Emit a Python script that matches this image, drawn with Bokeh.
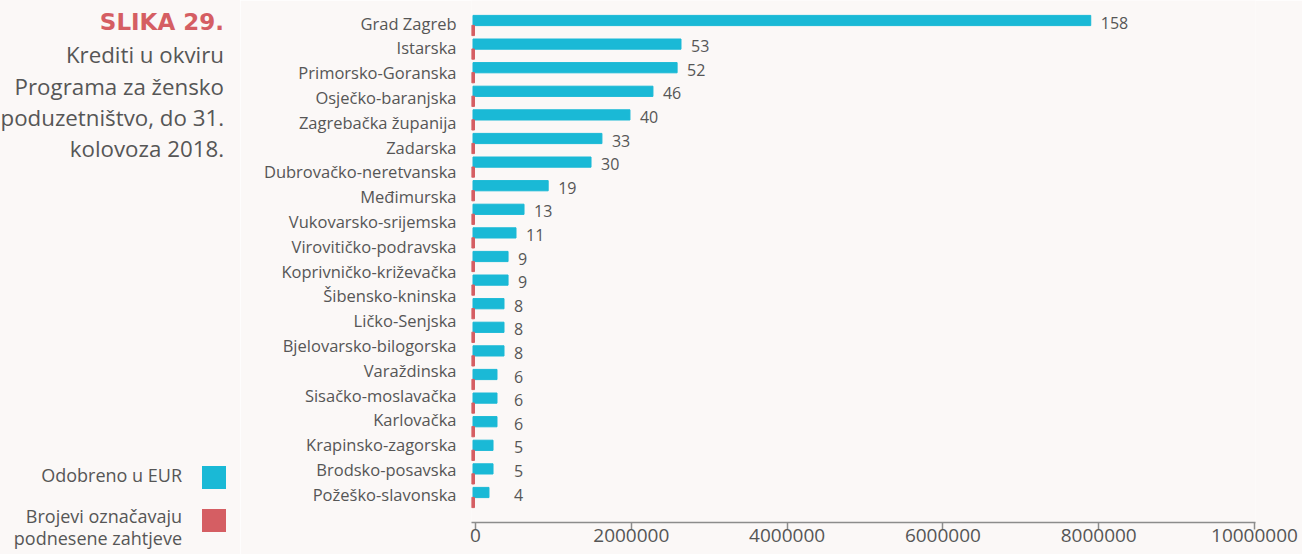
from bokeh.plotting import figure
from bokeh.models import (Range1d, LinearAxis, FixedTicker, NumeralTickFormatter,
                          ColumnDataSource, Div)
from bokeh.layouts import row
from bokeh.embed import file_html
from bokeh.resources import INLINE
from bokeh.core.properties import value

# ---------------- data ----------------
regions = [
    "Grad Zagreb", "Istarska", "Primorsko-Goranska", "Osječko-baranjska",
    "Zagrebačka županija", "Zadarska", "Dubrovačko-neretvanska", "Međimurska",
    "Vukovarsko-srijemska", "Virovitičko-podravska", "Koprivničko-križevačka",
    "Šibensko-kninska", "Ličko-Senjska", "Bjelovarsko-bilogorska", "Varaždinska",
    "Sisačko-moslavačka", "Karlovačka", "Krapinsko-zagorska", "Brodsko-posavska",
    "Požeško-slavonska",
]
approved_eur = [7930000, 2670000, 2620000, 2310000, 2015000, 1655000, 1515000,
                965000, 655000, 552000, 450000, 450000, 398000, 398000, 398000,
                308000, 308000, 308000, 257000, 257000, 205000]
applications = [158, 53, 52, 46, 40, 33, 30, 19, 13, 11, 9, 9, 8, 8, 8, 6, 6, 6, 5, 5, 4]
x_ticks = [0, 2000000, 4000000, 6000000, 8000000, 10000000]
legend_labels = ["Odobreno u EUR", "Brojevi označavaju", "podnesene zahtjeve"]
fig_label = "SLIKA 29."
title_lines = ["Krediti u okviru", "Programa za žensko", "poduzetništvo, do 31.", "kolovoza 2018."]

# ---------------- style / layout ----------------
BG = "#FBF8F7"
CYAN = "#1AB9D6"
RED = "#D55E63"
TXT = "#565656"
FONT = "Open Sans"

W, H = 1302, 554
W_LEFT = 240
FL, FR = 471, 1255            # frame left / right (page px)
B_B = 32                      # bottom border (x axis panel)
FB = H - B_B                  # frame bottom (page px)
frame_w = FR - FL

PX = 77.9 / 1e6               # pixels per EUR
BAR_ZERO = 1.5                # px from frame left where bars start
AXIS_ZERO = 4                 # px from frame left where axis 0 lies
BAR_STEP, BAR_FIRST = 23.6, 20
LABEL_STEP, LABEL_FIRST = 24.8, 22.5
BAR_PX = 10.2

p = figure(width=W - W_LEFT, height=H, output_backend="svg", toolbar_location=None,
           title=None, x_axis_type=None, y_axis_type=None,
           x_range=Range1d(-BAR_ZERO / PX, (frame_w - BAR_ZERO) / PX),
           y_range=Range1d((FB - LABEL_FIRST) / LABEL_STEP, -LABEL_FIRST / LABEL_STEP),
           min_border_left=FL - W_LEFT, min_border_right=W - FR, min_border_top=0,
           min_border_bottom=B_B)
p.extra_x_ranges = {"ax": Range1d(-AXIS_ZERO / PX, (frame_w - AXIS_ZERO) / PX)}
p.extra_y_ranges = {"bars": Range1d((FB - BAR_FIRST) / BAR_STEP, -BAR_FIRST / BAR_STEP)}
p.background_fill_color = BG
p.border_fill_color = BG
p.outline_line_color = None

n = len(approved_eur)
hgt = BAR_PX / BAR_STEP
off = 10 / BAR_STEP
label_min = 31 / PX
src = ColumnDataSource(dict(
    y=list(range(n)),
    y2=[i + off for i in range(n)],
    eur=approved_eur,
    txt=[str(c) for c in applications],
    lx=[max(v, label_min) for v in approved_eur],
))
p.hbar(y="y", left=0, right="eur", height=hgt, color=CYAN, source=src, y_range_name="bars")
p.rect(x=0, y="y2", width=3, width_units="screen", height=hgt, color=RED, source=src,
       y_range_name="bars")
p.text(x="lx", y="y", text="txt", source=src, y_range_name="bars", x_offset=10, y_offset=2,
       text_baseline="middle", text_align="left", text_color=TXT,
       text_font=value(FONT), text_font_size="16px")

yaxis = LinearAxis(ticker=FixedTicker(ticks=list(range(len(regions)))),
                   major_label_overrides={i: r for i, r in enumerate(regions)})
yaxis.axis_line_color = None
yaxis.major_tick_line_color = None
yaxis.minor_tick_line_color = None
yaxis.major_tick_out = 0
yaxis.major_tick_in = 0
yaxis.major_label_standoff = 15
yaxis.major_label_text_font = FONT
yaxis.major_label_text_font_size = "16.5px"
yaxis.major_label_text_color = TXT
p.add_layout(yaxis, "left")

xaxis = LinearAxis(x_range_name="ax", ticker=FixedTicker(ticks=x_ticks),
                   formatter=NumeralTickFormatter(format="0"))
xaxis.axis_line_color = "#8c8c8c"
xaxis.axis_line_width = 1.5
xaxis.major_tick_line_color = "#8c8c8c"
xaxis.major_tick_line_width = 1.5
xaxis.major_tick_out = 0
xaxis.major_tick_in = -7          # ticks drawn outward without enlarging the panel
xaxis.minor_tick_line_color = None
xaxis.major_label_standoff = 6
xaxis.major_label_text_font = FONT
xaxis.major_label_text_font_size = "19px"
xaxis.major_label_text_color = TXT
p.add_layout(xaxis, "below")

# ---------------- title + legend panel (left) ----------------
def svg_text(x, y, s, size, color, family, weight="normal"):
    style = (f"font-family:'{family}';font-weight:{weight};font-size:{size}px;"
             f"fill:{color};text-anchor:end")
    return f'<text x="{x}" y="{y}" style="{style}">{s}</text>'

parts = [f'<svg xmlns="http://www.w3.org/2000/svg" width="{W_LEFT}" height="{H}" '
         f'style="display:block">']
parts.append(svg_text(224, 30, fig_label, 23, RED, "DejaVu Sans", "bold"))
for line, base in zip(title_lines, [63.3, 95, 126, 157]):
    parts.append(svg_text(224, base, line, 22.3, TXT, FONT))
for line, base in zip(legend_labels, [482, 523, 545]):
    parts.append(svg_text(182, base, line, 18, TXT, FONT))
for col, top in zip([CYAN, RED], [466, 509]):
    parts.append(f'<rect x="202" y="{top}" width="24" height="23" style="fill:{col}"/>')
parts.append('</svg>')

left = Div(text="".join(parts), width=W_LEFT, height=H, margin=0,
           styles={"background-color": BG})

layout = row(left, p, spacing=0)
open("out.html", "w").write(file_html(layout, INLINE))
